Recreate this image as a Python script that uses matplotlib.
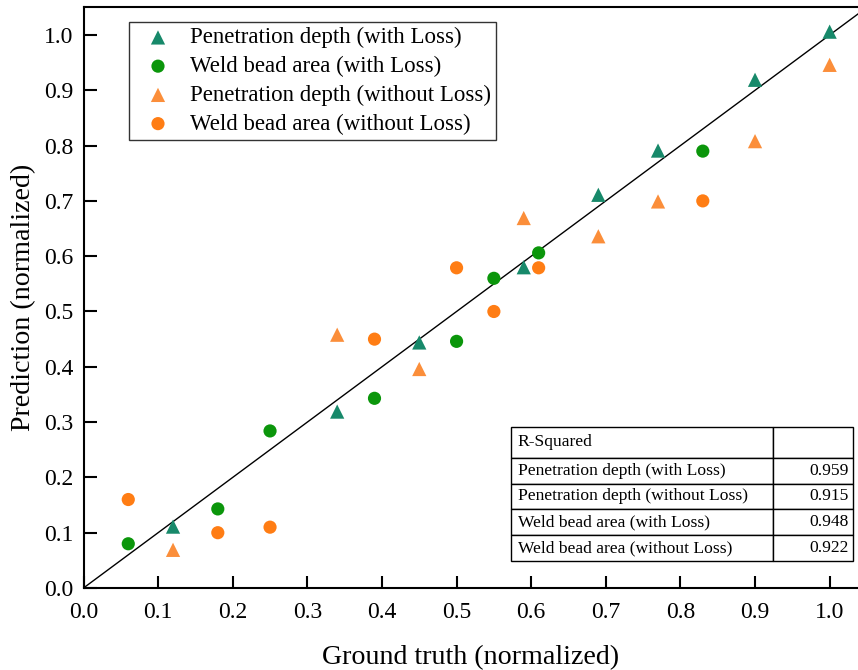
import matplotlib
matplotlib.use("Agg")
import matplotlib.pyplot as plt
import numpy as np

plt.rcParams['font.family'] = ['Liberation Serif', 'DejaVu Serif']

gt_pen = [0.12, 0.34, 0.45, 0.59, 0.69, 0.77, 0.90, 1.00]
pred_pen_loss = [0.111, 0.319, 0.444, 0.580, 0.711, 0.791, 0.919, 1.006]
pred_pen_noloss = [0.069, 0.458, 0.396, 0.669, 0.636, 0.699, 0.808, 0.946]

gt_weld = [0.06, 0.18, 0.25, 0.39, 0.50, 0.55, 0.61, 0.83]
pred_weld_loss = [0.080, 0.143, 0.284, 0.343, 0.446, 0.560, 0.606, 0.790]
pred_weld_noloss = [0.160, 0.100, 0.110, 0.450, 0.579, 0.500, 0.579, 0.700]

series_labels = ["Penetration depth (with Loss)", "Weld bead area (with Loss)",
                 "Penetration depth (without Loss)", "Weld bead area (without Loss)"]
table_labels = ["Penetration depth (with Loss)", "Penetration depth (without Loss)",
                "Weld bead area (with Loss)", "Weld bead area (without Loss)"]
r2_values = ["0.959", "0.915", "0.948", "0.922"]
ticks = [0.0, 0.1, 0.2, 0.3, 0.4, 0.5, 0.6, 0.7, 0.8, 0.9, 1.0]

c_teal = "#17896a"
c_green = "#0b960b"
c_otri = "#fb8e3a"
c_ocir = "#ff7d14"

fig = plt.figure(figsize=(8.58, 6.70), dpi=100)
ax = fig.add_axes([83.5/858, 1 - 588/670, (858 - 83.5)/858, (588 - 7)/670])

ax.plot([0, 1.1], [0, 1.1], color='black', lw=1.0, zorder=1)
ax.scatter(gt_pen, pred_pen_loss, marker='^', s=105, color=c_teal, edgecolors='none', label=series_labels[0], zorder=3)
ax.scatter(gt_weld, pred_weld_loss, marker='o', s=90, color=c_green, edgecolors='none', label=series_labels[1], zorder=3)
ax.scatter(gt_pen, pred_pen_noloss, marker='^', s=105, color=c_otri, edgecolors='none', label=series_labels[2], zorder=3)
ax.scatter(gt_weld, pred_weld_noloss, marker='o', s=90, color=c_ocir, edgecolors='none', label=series_labels[3], zorder=3)

ax.set_xlim(0, 1.038)
ax.set_ylim(0, 1.0506)
ax.set_xticks(ticks)
ax.set_yticks(ticks)
ax.set_xticklabels([f"{t:.1f}" for t in ticks])
ax.set_yticklabels([f"{t:.1f}" for t in ticks])
ax.tick_params(direction='in', length=9, width=1.5, labelsize=17)
ax.tick_params(axis='x', pad=10)
ax.tick_params(axis='y', pad=7)
for side in ['left', 'bottom', 'top']:
    ax.spines[side].set_linewidth(1.5)
ax.spines['right'].set_visible(False)

ax.set_xlabel("Ground truth (normalized)", fontsize=20.2, labelpad=16)
ax.set_ylabel("Prediction (normalized)", fontsize=20.2, labelpad=6)

leg = ax.legend(loc='upper left', bbox_to_anchor=((129 - 83.5)/774.5, (588 - 22)/581),
                fontsize=16.5, frameon=True, fancybox=False, edgecolor='black',
                handletextpad=0.36, borderpad=0.23, labelspacing=0.33, handlelength=2.07,
                borderaxespad=0.0)
leg.get_frame().set_linewidth(1.0)

# R-squared table
tx0 = (511 - 83.5)/774.5
tx1 = (853 - 83.5)/774.5
ty_top = (588 - 427)/581
ty_bot = (588 - 561)/581
cell_text = [["R-Squared", ""]] + [[lab, val] for lab, val in zip(table_labels, r2_values)]
tbl = ax.table(cellText=cell_text, colWidths=[(773 - 511)/774.5, (853 - 773)/774.5],
               bbox=[tx0, ty_bot, tx1 - tx0, ty_top - ty_bot], zorder=5)
tbl.auto_set_font_size(False)
tbl.set_fontsize(12.6)
for (r, c), cell in tbl.get_celld().items():
    cell.set_linewidth(1.0)
    cell.set_facecolor('white')
    cell.set_height(31 if r == 0 else 26)
    if c == 0:
        cell.get_text().set_ha('left')
        cell.PAD = 0.025
    else:
        cell.get_text().set_ha('right')
        cell.PAD = 0.05

fig.savefig("out.png", dpi=100)
